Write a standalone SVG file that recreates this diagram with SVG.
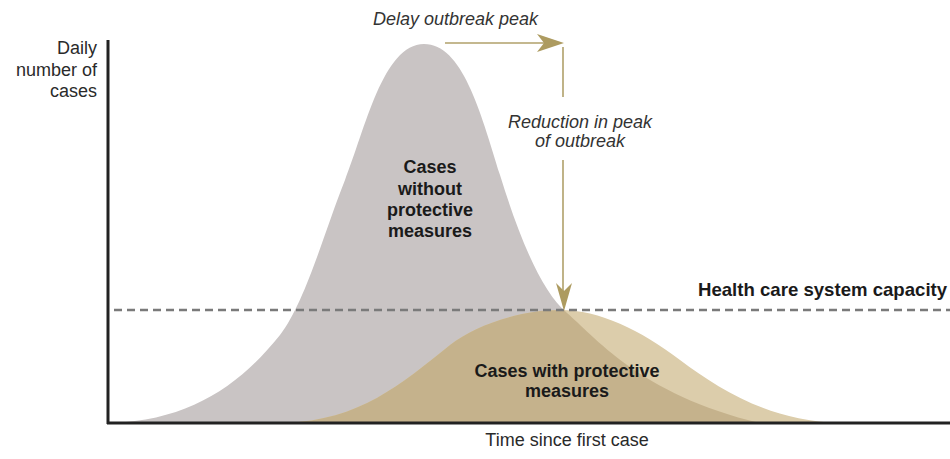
<svg xmlns="http://www.w3.org/2000/svg" width="950" height="459" viewBox="0 0 950 459">
  <style>
    .lbl { font-family: "Liberation Sans", Arial, sans-serif; font-size: 18px; fill: #2a2a2a; }
    .it { font-style: italic; fill: #333; }
    .bd { font-weight: bold; fill: #1a1a1a; }
    .big { font-size: 18.6px; }
    .mid { text-anchor: middle; }
    .end { text-anchor: end; }
    .arrow { stroke: #b0a06a; stroke-width: 1.6; fill: none; }
    .head { fill: #ad9b60; }
  </style>
  <defs>
    <path id="greyShape" d="M112,423 C190,420 240,385 280,335 C305,303 325,230 345,180 C365,130 383,44 424,44 C462,44 480,110 500,175 C520,240 542,292 567,313 C592,334 640,395 760,423 Z"/>
    <path id="tanShape" d="M285,423 C360,420 400,385 450,345 C475,325 520,310 560,310 C600,310 640,330 680,360 C720,390 770,421 840,423 Z"/>
    <clipPath id="greyClip">
      <use href="#greyShape"/>
    </clipPath>
  </defs>
  <rect width="950" height="459" fill="#ffffff"/>

  <g id="curve-without">
    <use href="#greyShape" fill="#c9c4c4"/>
  </g>
  <g id="curve-with">
    <use href="#tanShape" fill="#dccdab"/>
    <use href="#tanShape" fill="#c5b28c" clip-path="url(#greyClip)"/>
  </g>

  <g id="capacity">
    <line x1="114" y1="310" x2="950" y2="310" stroke="#7a7a7a" stroke-width="2.4" stroke-dasharray="8,5"/>
    <text class="lbl bd big" x="698" y="296">Health care system capacity</text>
  </g>

  <g id="axes">
    <line x1="108" y1="40" x2="108" y2="424" stroke="#222" stroke-width="3"/>
    <line x1="107" y1="423" x2="950" y2="423" stroke="#222" stroke-width="3"/>
    <text class="lbl end" x="97" y="54">Daily</text>
    <text class="lbl end" x="97" y="76">number of</text>
    <text class="lbl end" x="97" y="97">cases</text>
    <text class="lbl mid" x="567" y="446">Time since first case</text>
  </g>

  <g id="label-without">
    <text class="lbl bd mid" x="430" y="173">Cases</text>
    <text class="lbl bd mid" x="430" y="195">without</text>
    <text class="lbl bd mid" x="430" y="216">protective</text>
    <text class="lbl bd mid" x="430" y="237">measures</text>
  </g>
  <g id="label-with">
    <text class="lbl bd mid" x="567" y="377">Cases with protective</text>
    <text class="lbl bd mid" x="567" y="397">measures</text>
  </g>

  <g id="connectors">
    <line class="arrow" x1="445" y1="43" x2="550" y2="43"/>
    <path class="head" d="M564,43 L537,34 L544,43 L537,52 Z"/>
    <line class="arrow" x1="563" y1="47" x2="563" y2="97"/>
    <line class="arrow" x1="563" y1="160" x2="563" y2="292"/>
    <path class="head" d="M564,311 L556,283 L564,291 L572,283 Z"/>
  </g>
  <g id="arrow-labels">
    <text class="lbl it" x="373" y="25">Delay outbreak peak</text>
    <text class="lbl it mid" x="580" y="128">Reduction in peak</text>
    <text class="lbl it mid" x="580" y="147">of outbreak</text>
  </g>
</svg>
